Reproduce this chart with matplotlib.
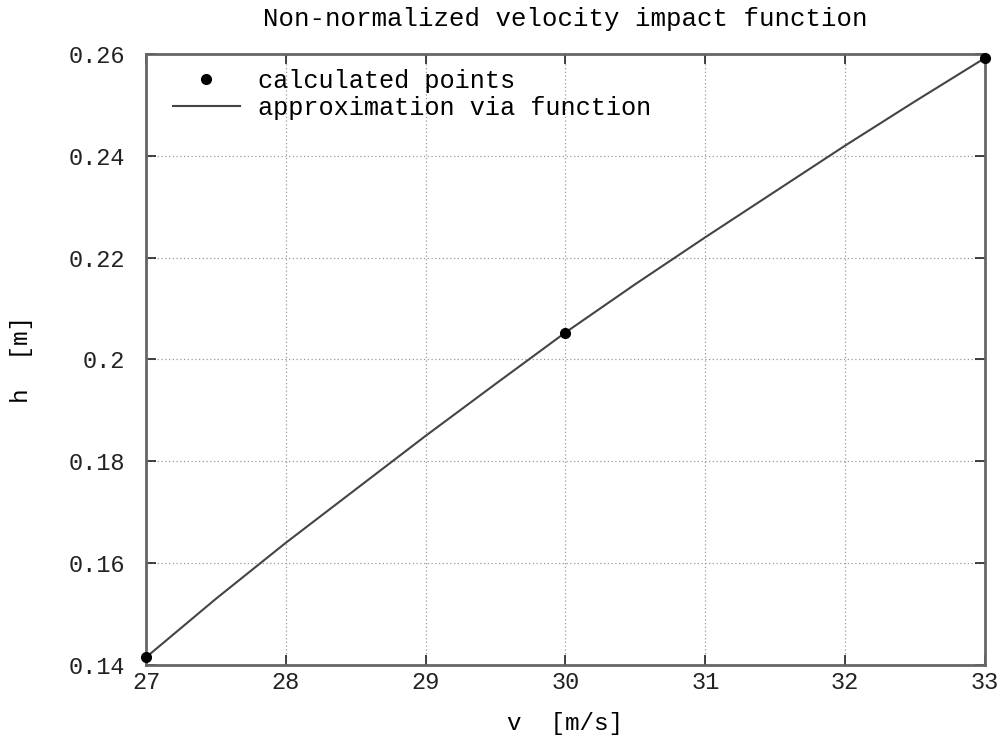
import numpy as np
import matplotlib.pyplot as plt

# calculated points
v_pts = [27, 30, 33]
h_pts = [0.1415, 0.2053, 0.2592]

# approximation curve
v_fit = [27, 27.5, 28, 28.5, 29, 29.5, 30, 30.5, 31, 31.5, 32, 32.5, 33]
h_fit = [0.1415, 0.1530, 0.1640, 0.1745, 0.1850, 0.1952, 0.2053, 0.2148, 0.2240, 0.2330, 0.2420, 0.2507, 0.2592]

xticks = [27, 28, 29, 30, 31, 32, 33]
yticks = [0.14, 0.16, 0.18, 0.2, 0.22, 0.24, 0.26]
ylabels = ['0.14', '0.16', '0.18', '0.2', '0.22', '0.24', '0.26']

plt.rcParams['font.family'] = ['Liberation Mono', 'DejaVu Sans Mono']

fig = plt.figure(figsize=(10.07, 7.42), dpi=100)
ax = fig.add_axes([0.145, 0.1038, 0.833, 0.8234])

ax.plot(v_pts, h_pts, 'o', color='black', markersize=7, label='calculated points', clip_on=False, zorder=5)
ax.plot(v_fit, h_fit, '-', color='#444444', linewidth=1.5, label='approximation via function', clip_on=False)

ax.set_xlim(27, 33)
ax.set_ylim(0.14, 0.26)
ax.set_xticks(xticks)
ax.set_yticks(yticks)
ax.set_yticklabels(ylabels)
ax.tick_params(direction='in', length=7, width=1.2, top=True, right=True, labelsize=17, colors='#222222')
ax.tick_params(axis='x', pad=4.5)
ax.tick_params(axis='y', pad=15)
ax.grid(True, linestyle=(0, (1, 2)), color='#999999', linewidth=0.9)
for s in ax.spines.values():
    s.set_color('#666666')
    s.set_linewidth(2)

ax.set_xlabel('v  [m/s]', fontsize=17.5, labelpad=13)
ax.set_ylabel('h  [m]', fontsize=17.5, labelpad=26)
ax.set_title('Non-normalized velocity impact function', fontsize=18.5, pad=20)

ax.legend(loc='upper left', frameon=False, fontsize=18.2, handlelength=2.65, handletextpad=0.7,
          borderaxespad=0.2, labelspacing=0.1, bbox_to_anchor=(0.014, 1.0))

fig.savefig('out.png', dpi=100)
